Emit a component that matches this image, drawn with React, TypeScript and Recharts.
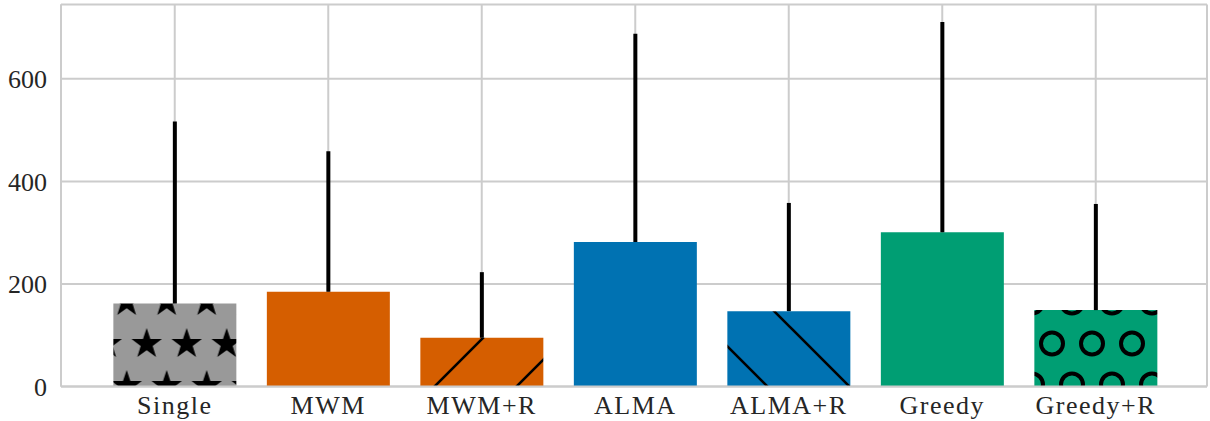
import { BarChart, Bar, XAxis, YAxis, CartesianGrid, Cell, ErrorBar } from 'recharts'

const methods = ['Single', 'MWM', 'MWM+R', 'ALMA', 'ALMA+R', 'Greedy', 'Greedy+R']
const means = [162, 185, 95, 282, 147, 301, 149]
const errUp = [355, 274, 128, 406, 211, 410, 207]
const yTicks = [0, 200, 400, 600]

const baseColors = ['#999999', '#d55e00', '#d55e00', '#0072b2', '#0072b2', '#009e73', '#009e73']
const hatches = ['stars', '', 'slash', '', 'backslash', '', 'circles']

const data = methods.map((name, i) => ({
  name,
  mean: means[i],
  err: [0, errUp[i]],
}))

const FONT = '"Liberation Serif", "DejaVu Serif", serif'
const GRID = '#cccccc'
const TEXT = '#262626'

function starPath(cx: number, cy: number, R: number, r: number) {
  const pts: string[] = []
  for (let k = 0; k < 10; k++) {
    const rad = k % 2 === 0 ? R : r
    const a = -Math.PI / 2 + (k * Math.PI) / 5
    pts.push(`${(cx + rad * Math.cos(a)).toFixed(2)},${(cy + rad * Math.sin(a)).toFixed(2)}`)
  }
  return `M${pts.join('L')}Z`
}

function Patterns() {
  return (
    <defs>
      <pattern id="stars" patternUnits="userSpaceOnUse" x={106.7} y={281} width={40} height={84}>
        <rect width={40} height={84} fill={baseColors[0]} />
        <path d={starPath(20, 21, 16, 6.3)} fill="#000" />
        <path d={starPath(0, 63, 16, 6.3)} fill="#000" />
        <path d={starPath(40, 63, 16, 6.3)} fill="#000" />
      </pattern>
      <pattern id="slash" patternUnits="userSpaceOnUse" x={1} y={0} width={82} height={82}>
        <rect width={82} height={82} fill={baseColors[2]} />
        <path d="M0,82L82,0M-5,5L5,-5M77,87L87,77" stroke="#000" strokeWidth={2.6} />
      </pattern>
      <pattern id="backslash" patternUnits="userSpaceOnUse" x={53} y={0} width={82} height={82}>
        <rect width={82} height={82} fill={baseColors[4]} />
        <path d="M0,0L82,82M-5,77L5,87M77,-5L87,5" stroke="#000" strokeWidth={2.6} />
      </pattern>
      <pattern id="circles" patternUnits="userSpaceOnUse" x={1052} y={282} width={40} height={82}>
        <rect width={40} height={82} fill={baseColors[6]} />
        <circle cx={20} cy={20.5} r={11} fill="none" stroke="#000" strokeWidth={4} />
        <circle cx={0} cy={61.5} r={11} fill="none" stroke="#000" strokeWidth={4} />
        <circle cx={40} cy={61.5} r={11} fill="none" stroke="#000" strokeWidth={4} />
      </pattern>
    </defs>
  )
}

export default function App() {
  return (
    <div style={{ position: 'absolute', left: 0, top: 0, width: 1210, height: 421, background: '#fff' }}>
      <BarChart
        width={1210}
        height={421}
        data={data}
        margin={{ top: 4.5, right: 3, bottom: 0, left: 0 }}
        barCategoryGap="10%"
      >
        <Patterns />
        <CartesianGrid stroke={GRID} strokeWidth={2} />
        <XAxis
          dataKey="name"
          height={34.5}
          padding={{ left: 37, right: 34.5 }}
          tickLine={false}
          tickSize={0}
          tickMargin={9}
          axisLine={{ stroke: GRID, strokeWidth: 2 }}
          tick={{ fill: TEXT, fontSize: 26, fontFamily: FONT, letterSpacing: 1.5 }}
          interval={0}
        />
        <XAxis
          xAxisId="top"
          orientation="top"
          dataKey="name"
          height={0}
          padding={{ left: 37, right: 34.5 }}
          tick={false}
          tickLine={false}
          axisLine={{ stroke: GRID, strokeWidth: 2 }}
        />
        <YAxis
          width={61}
          domain={[0, 745]}
          ticks={yTicks}
          tickLine={false}
          tickSize={0}
          tickMargin={14}
          axisLine={{ stroke: GRID, strokeWidth: 2 }}
          tick={{ fill: TEXT, fontSize: 26, fontFamily: FONT }}
        />
        <YAxis
          yAxisId="right"
          orientation="right"
          width={0}
          domain={[0, 745]}
          tick={false}
          tickLine={false}
          axisLine={{ stroke: GRID, strokeWidth: 2 }}
        />
        <Bar dataKey="mean" isAnimationActive={false}>
          {data.map((d, i) => (
            <Cell key={d.name} fill={hatches[i] ? `url(#${hatches[i]})` : baseColors[i]} />
          ))}
          <ErrorBar dataKey="err" width={0} stroke="#000" strokeWidth={4} isAnimationActive={false} />
        </Bar>
      </BarChart>
    </div>
  )
}
